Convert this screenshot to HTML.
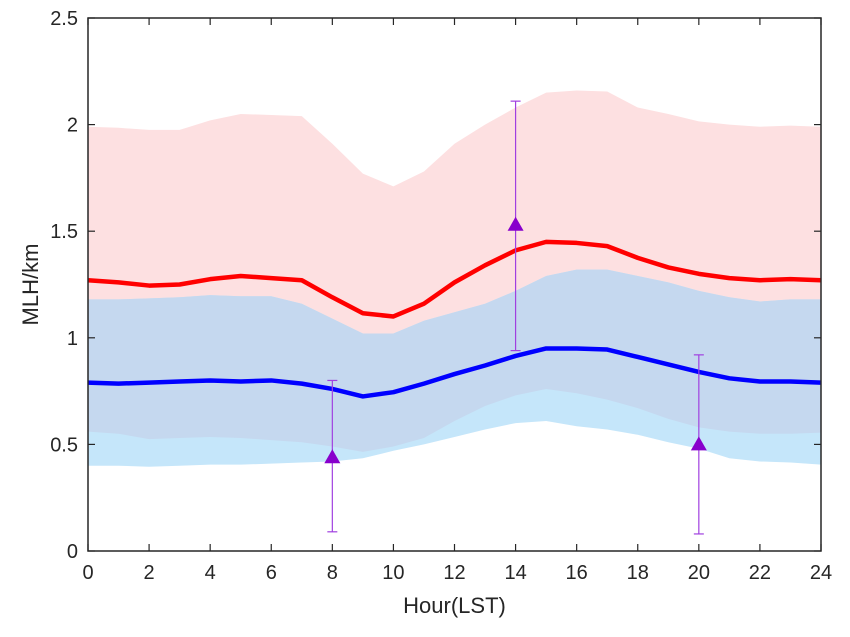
<!DOCTYPE html>
<html><head><meta charset="utf-8"><style>
body{margin:0;background:#fff;}
svg text{font-family:"Liberation Sans",Arial,sans-serif;}
</style></head><body>
<svg id="chart" width="850" height="632" viewBox="0 0 850 632" xmlns="http://www.w3.org/2000/svg"></svg>
<script>
const hours=[0,1,2,3,4,5,6,7,8,9,10,11,12,13,14,15,16,17,18,19,20,21,22,23,24];
const redMean=[1.27,1.26,1.245,1.25,1.275,1.29,1.28,1.27,1.19,1.115,1.10,1.16,1.26,1.34,1.41,1.45,1.445,1.43,1.375,1.33,1.30,1.28,1.27,1.275,1.27];
const blueMean=[0.79,0.785,0.79,0.795,0.80,0.795,0.80,0.785,0.76,0.725,0.745,0.785,0.83,0.87,0.915,0.95,0.95,0.945,0.91,0.875,0.84,0.81,0.795,0.795,0.79];
const redUpper=[1.99,1.985,1.975,1.975,2.02,2.05,2.045,2.04,1.91,1.77,1.71,1.78,1.91,2.0,2.08,2.15,2.16,2.155,2.08,2.05,2.015,2.0,1.99,1.995,1.99];
const redLower=[0.56,0.55,0.525,0.53,0.535,0.53,0.52,0.51,0.49,0.465,0.49,0.53,0.61,0.68,0.73,0.76,0.74,0.71,0.67,0.62,0.58,0.56,0.55,0.55,0.555];
const blueUpper=[1.18,1.18,1.185,1.19,1.20,1.195,1.195,1.16,1.09,1.02,1.02,1.08,1.12,1.16,1.22,1.29,1.32,1.32,1.29,1.26,1.22,1.19,1.17,1.18,1.18];
const blueLower=[0.40,0.40,0.395,0.40,0.405,0.405,0.41,0.415,0.42,0.435,0.47,0.50,0.535,0.57,0.60,0.61,0.585,0.57,0.545,0.51,0.48,0.435,0.42,0.415,0.405];
const obsHours=[8,14,20];
const obsValues=[0.44,1.53,0.50];
const obsLow=[0.09,0.94,0.08];
const obsHigh=[0.80,2.11,0.92];
const xTicks=[0,2,4,6,8,10,12,14,16,18,20,22,24];
const yTicks=[0,0.5,1,1.5,2,2.5];
const yTickLabels=["0","0.5","1","1.5","2","2.5"];

const L=88,R=821,T=18,B=551;
const sx=h=>L+(h-0)/24*(R-L);
const sy=v=>B-v/2.5*(B-T);
const svg=document.getElementById('chart');
const NS='http://www.w3.org/2000/svg';
function mk(tag,attrs,parent){const e=document.createElementNS(NS,tag);for(const k in attrs)e.setAttribute(k,attrs[k]);(parent||svg).appendChild(e);return e;}
function band(up,lo){let d='';hours.forEach((h,i)=>{d+=(i?'L':'M')+sx(h)+','+sy(up[i]);});for(let i=hours.length-1;i>=0;i--)d+='L'+sx(hours[i])+','+sy(lo[i]);return d+'Z';}
function line(v){return hours.map((h,i)=>(i?'L':'M')+sx(h)+','+sy(v[i])).join('');}

let e;
e=mk('path',{d:band(redUpper,redLower),fill:'#fde0e1'});


e=mk('path',{d:band(blueUpper,blueLower),fill:'#c5e6fa'});


e=mk('path',{d:band(blueUpper,redLower),fill:'#c5d8ef'});


e=mk('path',{d:line(redMean),fill:'none',stroke:'#ff0000','stroke-width':4.5,'stroke-linejoin':'round'});


e=mk('path',{d:line(blueMean),fill:'none',stroke:'#0000ff','stroke-width':4.5,'stroke-linejoin':'round'});



obsHours.forEach((h,i)=>{
  const g=mk('g',{});
  
  
  const x=sx(h);
  mk('line',{x1:x,x2:x,y1:sy(obsLow[i]),y2:sy(obsHigh[i]),stroke:'#a040e0','stroke-width':1.2},g);
  mk('line',{x1:x-5,x2:x+5,y1:sy(obsLow[i]),y2:sy(obsLow[i]),stroke:'#a040e0','stroke-width':1.2},g);
  mk('line',{x1:x-5,x2:x+5,y1:sy(obsHigh[i]),y2:sy(obsHigh[i]),stroke:'#a040e0','stroke-width':1.2},g);
  const y=sy(obsValues[i]);
  mk('polygon',{points:`${x},${y-8} ${x-8},${y+6} ${x+8},${y+6}`,fill:'#8800cc'},g);
});

e=mk('rect',{x:L,y:T,width:R-L,height:B-T,fill:'none',stroke:'#262626','stroke-width':1.5});



xTicks.forEach(t=>{
  const x=sx(t);
  mk('line',{x1:x,x2:x,y1:B,y2:B-7,stroke:'#262626','stroke-width':1.2});
  mk('line',{x1:x,x2:x,y1:T,y2:T+7,stroke:'#262626','stroke-width':1.2});
  const tx=mk('text',{x:x,y:B+28,'font-size':20,'text-anchor':'middle',fill:'#262626'});
  tx.textContent=t;
  
  
});
yTicks.forEach((t,i)=>{
  const y=sy(t);
  mk('line',{x1:L,x2:L+7,y1:y,y2:y,stroke:'#262626','stroke-width':1.2});
  mk('line',{x1:R,x2:R-7,y1:y,y2:y,stroke:'#262626','stroke-width':1.2});
  const tx=mk('text',{x:L-10,y:y+7,'font-size':20,'text-anchor':'end',fill:'#262626'});
  tx.textContent=yTickLabels[i];
  
  
});
e=mk('text',{x:(L+R)/2,y:613,'font-size':22,'text-anchor':'middle',fill:'#262626'});
e.textContent='Hour(LST)';


e=mk('text',{x:0,y:0,'font-size':22,'text-anchor':'middle',fill:'#262626',transform:`translate(38,${(T+B)/2}) rotate(-90)`});
e.textContent='MLH/km';


</script>
</body></html>
